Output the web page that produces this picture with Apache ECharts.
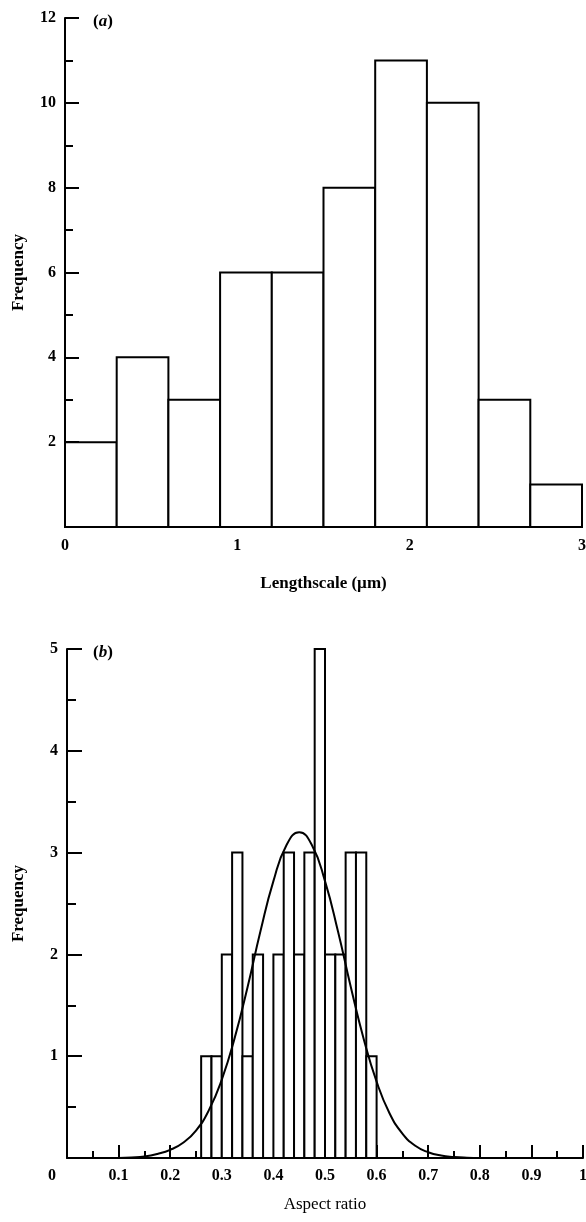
<!DOCTYPE html>
<html>
<head>
<meta charset="utf-8">
<script src="https://cdn.jsdelivr.net/npm/echarts@6/dist/echarts.min.js"></script>
<style>html,body{margin:0;padding:0;background:#fff}#c{width:586px;height:1222px}</style>
</head>
<body>
<div id="c"></div>
<script>
// Panel (a): lengthscale histogram, bins of 0.3 µm
var lenBinStarts = [0, 0.3, 0.6, 0.9, 1.2, 1.5, 1.8, 2.1, 2.4, 2.7];
var lenBinWidth = 0.3;
var lenCounts = [2, 4, 3, 6, 6, 8, 11, 10, 3, 1];
var lenTicks = [0, 1, 2, 3];

// Panel (b): aspect ratio histogram, bins of 0.02
var arBinStarts = [0.26, 0.28, 0.30, 0.32, 0.34, 0.36, 0.38, 0.40, 0.42, 0.44, 0.46, 0.48, 0.50, 0.52, 0.54, 0.56, 0.58];
var arBinWidth = 0.02;
var arCounts = [1, 1, 2, 3, 1, 2, 0, 2, 3, 2, 3, 5, 2, 2, 3, 3, 1];

// fitted curve
var curveX = [0.10, 0.125, 0.15, 0.175, 0.20, 0.225, 0.25, 0.275, 0.30, 0.325, 0.35, 0.375, 0.40, 0.425, 0.45, 0.475, 0.50, 0.525, 0.55, 0.575, 0.60, 0.625, 0.65, 0.675, 0.70, 0.725, 0.75, 0.775, 0.80];
var curveY = [0.0, 0.005, 0.015, 0.04, 0.08, 0.15, 0.27, 0.47, 0.77, 1.18, 1.68, 2.23, 2.72, 3.07, 3.2, 3.07, 2.72, 2.23, 1.68, 1.17, 0.75, 0.44, 0.24, 0.12, 0.057, 0.024, 0.01, 0.003, 0.0];

var lenData = lenBinStarts.map(function (s, i) { return [s, +(s + lenBinWidth).toFixed(2), lenCounts[i]]; });
var arData = [];
arBinStarts.forEach(function (s, i) { if (arCounts[i] > 0) arData.push([s, +(s + arBinWidth).toFixed(2), arCounts[i]]); });
var curveData = curveX.map(function (x, i) { return [x, curveY[i]]; });

var FONT = '"Liberation Serif", "DejaVu Serif", serif';
var AX = { color: '#000', width: 2 };

function histRender(bw) {
  return function (params, api) {
    var p0 = api.coord([api.value(0), api.value(2)]);
    var p1 = api.coord([api.value(1), 0]);
    return {
      type: 'rect',
      shape: { x: p0[0], y: p0[1], width: p1[0] - p0[0], height: p1[1] - p0[1] },
      style: { fill: '#fff', stroke: '#000', lineWidth: bw }
    };
  };
}

var chart = echarts.init(document.getElementById('c'), null, { renderer: 'canvas' });
chart.setOption({
  backgroundColor: '#fff',
  animation: false,
  title: [
    { text: '{p|(}{i|a}{p|)}', left: 88, top: 8,
      textStyle: { rich: { p: { fontFamily: FONT, fontSize: 17, color: '#000' }, i: { fontFamily: FONT, fontSize: 17, fontStyle: 'italic', color: '#000' } } } },
    { text: '{p|(}{i|b}{p|)}', left: 88, top: 639,
      textStyle: { rich: { p: { fontFamily: FONT, fontSize: 17, color: '#000' }, i: { fontFamily: FONT, fontSize: 17, fontStyle: 'italic', color: '#000' } } } }
  ],
  grid: [
    { left: 65, right: 4, top: 18, bottom: 695, outerBoundsMode: 'none' },
    { left: 67, right: 3, top: 649, bottom: 64, outerBoundsMode: 'none' }
  ],
  xAxis: [
    { type: 'category', gridIndex: 0, data: lenBinStarts.map(String), boundaryGap: true,
      axisLine: { lineStyle: AX }, axisTick: { inside: true, alignWithLabel: true, length: 8, lineStyle: AX },
      axisLabel: { show: false }, splitLine: { show: false } },
    { type: 'value', gridIndex: 0, min: 0, max: 3, interval: 1, position: 'bottom',
      axisLine: { show: false }, axisTick: { show: false }, splitLine: { show: false },
      axisLabel: { color: '#000', fontFamily: FONT, fontWeight: 'bold', fontSize: 16, margin: 11,
        formatter: function (v) { return lenTicks.indexOf(v) >= 0 ? String(v) : ''; } },
      name: 'Lengthscale (µm)', nameLocation: 'middle', nameGap: 48,
      nameTextStyle: { color: '#000', fontFamily: FONT, fontWeight: 'bold', fontSize: 17 } },
    { type: 'value', gridIndex: 1, min: 0, max: 1, interval: 0.1,
      axisLine: { lineStyle: AX }, axisTick: { inside: true, length: 13, lineStyle: AX },
      minorTick: { show: true, splitNumber: 2, length: 7, lineStyle: AX },
      splitLine: { show: false }, minorSplitLine: { show: false },
      axisLabel: { color: '#000', fontFamily: FONT, fontWeight: 'bold', fontSize: 16, margin: 10,
        formatter: function (v) { if (v === 0) return '{z|0}'; if (v === 1) return '1'; return v.toFixed(1); },
        rich: { z: { fontFamily: FONT, fontWeight: 'bold', fontSize: 16, color: '#000', padding: [0, 30, 0, 0] } } },
      name: 'Aspect ratio', nameLocation: 'middle', nameGap: 38,
      nameTextStyle: { color: '#000', fontFamily: FONT, fontSize: 17 } }
  ],
  yAxis: [
    { type: 'value', gridIndex: 0, min: 0, max: 12, interval: 2,
      axisLine: { lineStyle: AX }, axisTick: { inside: true, length: 14, lineStyle: AX },
      minorTick: { show: true, splitNumber: 2, length: 8, lineStyle: AX },
      splitLine: { show: false }, minorSplitLine: { show: false },
      axisLabel: { color: '#000', fontFamily: FONT, fontWeight: 'bold', fontSize: 16, margin: 9,
        formatter: function (v) { return v === 0 ? '' : String(v); } },
      name: 'Frequency', nameLocation: 'middle', nameGap: 38,
      nameTextStyle: { color: '#000', fontFamily: FONT, fontWeight: 'bold', fontSize: 17 } },
    { type: 'value', gridIndex: 1, min: 0, max: 5, interval: 1,
      axisLine: { lineStyle: AX }, axisTick: { inside: true, length: 15, lineStyle: AX },
      minorTick: { show: true, splitNumber: 2, length: 9, lineStyle: AX },
      splitLine: { show: false }, minorSplitLine: { show: false },
      axisLabel: { color: '#000', fontFamily: FONT, fontWeight: 'bold', fontSize: 16, margin: 9,
        formatter: function (v) { return v === 0 ? '' : String(v); } },
      name: 'Frequency', nameLocation: 'middle', nameGap: 40,
      nameTextStyle: { color: '#000', fontFamily: FONT, fontWeight: 'bold', fontSize: 17 } }
  ],
  series: [
    { type: 'custom', xAxisIndex: 1, yAxisIndex: 0, data: lenData, renderItem: histRender(2), z: 1 },
    { type: 'custom', xAxisIndex: 2, yAxisIndex: 1, data: arData, renderItem: histRender(2), z: 1 },
    { type: 'line', xAxisIndex: 2, yAxisIndex: 1, data: curveData, smooth: true, symbol: 'none',
      lineStyle: { color: '#000', width: 2 }, z: 3 }
  ]
});
</script>
</body>
</html>
